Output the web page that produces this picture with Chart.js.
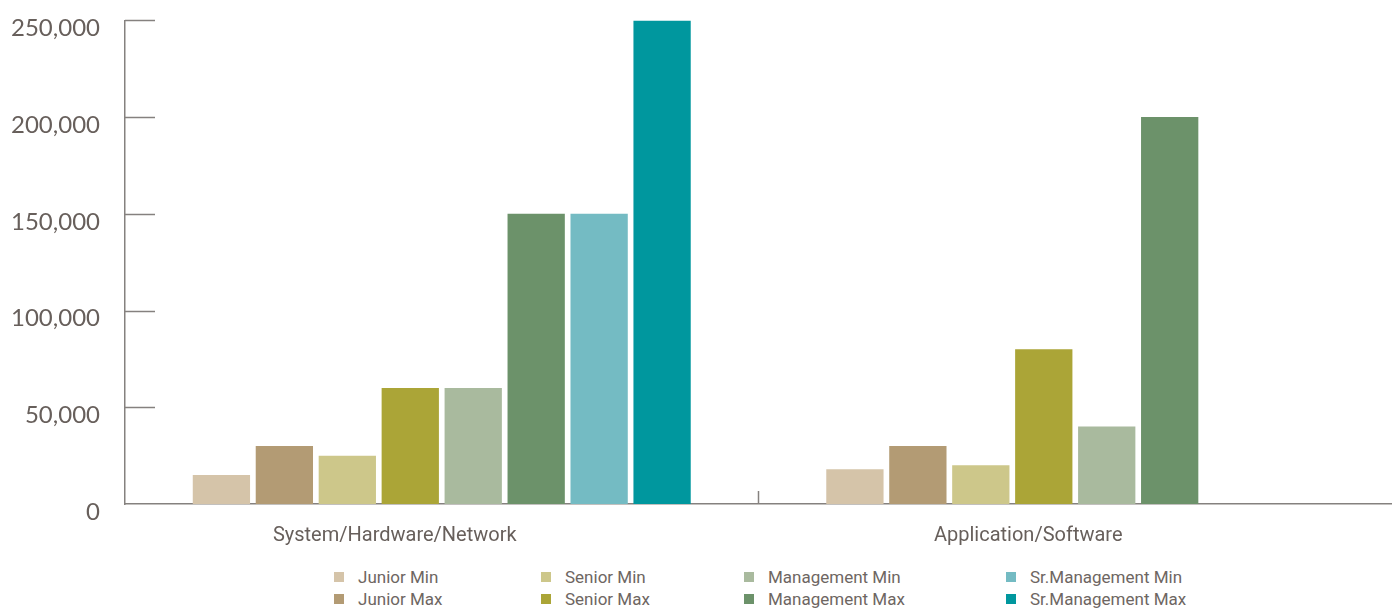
<!DOCTYPE html>
<html>
<head>
<meta charset="utf-8">
<script src="https://cdn.jsdelivr.net/npm/chart.js@4"></script>
<style>
  html, body { margin: 0; padding: 0; background: #fff; }
  #wrap { position: relative; width: 1392px; height: 608px; overflow: hidden; }
  #payChart { position: absolute; left: 0; top: -11px; }
  #legend { position: absolute; left: 334px; top: 566px; display: grid;
    grid-template-columns: 207px 203px 262px 200px; grid-auto-flow: column;
    grid-template-rows: 22px 22px; font-family: "Liberation Sans Narrow", "Roboto", sans-serif;
    font-size: 17px; color: #6e6662; }
  #legend div { display: flex; align-items: center; white-space: nowrap; }
  #legend span { display: inline-block; width: 10px; height: 10px; margin-right: 14px; }
</style>
</head>
<body>
<div id="wrap">
  <canvas id="payChart" width="1392" height="571"></canvas>
  <div id="legend"></div>
</div>
<script>
const categories = ['System/Hardware/Network', 'Application/Software'];
const seriesNames = ['Junior Min', 'Junior Max', 'Senior Min', 'Senior Max',
  'Management Min', 'Management Max', 'Sr.Management Min', 'Sr.Management Max'];
const juniorMin = [15000, 18000];
const juniorMax = [30000, 30000];
const seniorMin = [25000, 20000];
const seniorMax = [60000, 80000];
const mgmtMin = [60000, 40000];
const mgmtMax = [150000, 200000];
const srMgmtMin = [150000, null];
const srMgmtMax = [250000, null];
const yTicks = [0, 50000, 100000, 150000, 200000, 250000];

const seriesData = [juniorMin, juniorMax, seniorMin, seniorMax, mgmtMin, mgmtMax, srMgmtMin, srMgmtMax];
const colors = ['#d5c4a9', '#b39b74', '#cdc78a', '#aba537', '#a9ba9e', '#6c926a', '#74bbc3', '#00979e'];
const axisColor = '#85817f';
const textColor = '#675f5b';

// short inside tick marks on both axes
const innerTicks = {
  id: 'innerTicks',
  afterDraw(chart) {
    const ctx = chart.ctx;
    const y = chart.scales.y, x = chart.scales.x;
    ctx.save();
    ctx.strokeStyle = axisColor;
    ctx.lineWidth = 1.5;
    yTicks.forEach(v => {
      if (v === 0) return;
      const py = Math.round(y.getPixelForValue(v)) + 0.5;
      ctx.beginPath();
      ctx.moveTo(x.left, py);
      ctx.lineTo(x.left + 30, py);
      ctx.stroke();
    });
    const mid = (x.getPixelForValue(0) + x.getPixelForValue(1)) / 2;
    ctx.beginPath();
    ctx.moveTo(mid, y.bottom);
    ctx.lineTo(mid, y.bottom - 13);
    ctx.stroke();
    ctx.restore();
  }
};

const payChart = new Chart(document.getElementById('payChart').getContext('2d'), {
  type: 'bar',
  data: {
    labels: categories,
    datasets: seriesNames.map((name, i) => ({
      label: name,
      data: seriesData[i],
      backgroundColor: colors[i],
      barPercentage: 0.91,
      categoryPercentage: 0.795
    }))
  },
  options: {
    responsive: false,
    animation: false,
    layout: { padding: { top: 4, right: 0, left: 0, bottom: 0 } },
    plugins: { legend: { display: false }, tooltip: { enabled: false } },
    scales: {
      x: {
        grid: { display: false },
        border: { display: true, color: axisColor, width: 1.5 },
        ticks: {
          color: textColor, padding: 12, labelOffset: -47,
          font: { family: 'Liberation Sans Narrow, Roboto, sans-serif', size: 20 }
        },
        afterFit(scale) { scale.height = 56; }
      },
      y: {
        min: 0, max: 250000,
        grid: { display: false },
        border: { display: true, color: axisColor, width: 1.5 },
        afterBuildTicks(scale) { scale.ticks = yTicks.map(v => ({ value: v })); },
        ticks: {
          color: textColor, padding: 17, labelOffset: 8,
          font: { family: 'Lato, sans-serif', size: 24 },
          callback: v => v.toLocaleString('en-US')
        },
        afterFit(scale) { scale.width = 125; }
      }
    }
  },
  plugins: [innerTicks]
});

// legend laid out column-wise like the original
const legend = document.getElementById('legend');
payChart.data.datasets.forEach(ds => {
  const item = document.createElement('div');
  const box = document.createElement('span');
  box.style.background = ds.backgroundColor;
  item.appendChild(box);
  item.appendChild(document.createTextNode(ds.label));
  legend.appendChild(item);
});
</script>
</body>
</html>
